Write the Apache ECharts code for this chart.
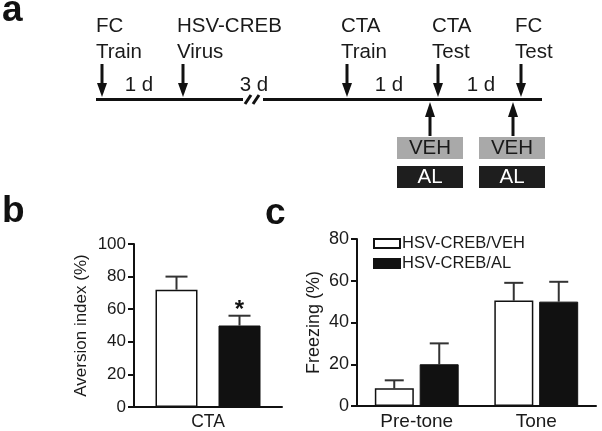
<!DOCTYPE html>
<html>
<head>
<meta charset="utf-8">
<script src="https://cdn.jsdelivr.net/npm/echarts@6/dist/echarts.min.js"></script>
<style>
html,body{margin:0;padding:0;background:#fff;}
#chart{width:602px;height:431px;}
</style>
</head>
<body>
<div id="chart"></div>
<script>
// ---------- data ----------
const timelineEvents = ['FC\nTrain', 'HSV-CREB\nVirus', 'CTA\nTrain', 'CTA\nTest', 'FC\nTest'];
const timelineIntervals = ['1 d', '3 d', '1 d', '1 d'];
const treatments = ['VEH', 'AL'];
const seriesNames = ['HSV-CREB/VEH', 'HSV-CREB/AL'];

const ctaCategories = ['CTA'];
const ctaVeh = [72];
const ctaVehErr = [8];
const ctaAl = [50];
const ctaAlErr = [6];
const ctaAlSig = ['*'];

const fcCategories = ['Pre-tone', 'Tone'];
const fcVeh = [8.5, 50.5];
const fcVehErr = [3.8, 8.5];
const fcAl = [20, 50];
const fcAlErr = [10, 9.5];

const ctaAxis = { min: 0, max: 100, interval: 20 };
const fcAxis = { min: 0, max: 80, interval: 20 };

// ---------- style / layout ----------
const FONT = '"Liberation Sans", Arial, Helvetica, sans-serif';
const INK = '#111';
const TXT = '#1a1a1a';
const TL_FONT = '20.5px ' + FONT;

const chart = echarts.init(document.getElementById('chart'), null, { renderer: 'canvas' });

function errRender(offset, capHalf, sig) {
  return function (params, api) {
    const c = api.value(0), v = api.value(1), e = api.value(2);
    const base = api.coord([c, v]);
    const top = api.coord([c, v + e]);
    const cx = base[0] + offset;
    const children = [
      { type: 'line', shape: { x1: cx, y1: base[1], x2: cx, y2: top[1] }, style: { stroke: '#333', lineWidth: 2 } },
      { type: 'line', shape: { x1: cx - capHalf, y1: top[1], x2: cx + capHalf, y2: top[1] }, style: { stroke: '#333', lineWidth: 2 } }
    ];
    if (sig && sig[params.dataIndex]) {
      children.push({ type: 'text', style: { text: sig[params.dataIndex], x: cx, y: top[1] - 5, align: 'center', verticalAlign: 'middle', font: 'bold 24px ' + FONT, fill: INK } });
    }
    return { type: 'group', children: children };
  };
}

// ---------- panel a (schematic) ----------
const g = [];
const lineY = 99.5;
const eventX = [102, 183, 347, 438, 521];
const intervalX = [139, 254, 389, 481];
const upX = [430, 513];
const boxX = [397, 479];

g.push({ type: 'text', style: { text: 'a', x: 2, y: 11, verticalAlign: 'middle', font: 'bold 37px ' + FONT, fill: INK } });
g.push({ type: 'text', style: { text: 'b', x: 2, y: 212, verticalAlign: 'middle', font: 'bold 37px ' + FONT, fill: INK } });
g.push({ type: 'text', style: { text: 'c', x: 265, y: 214, verticalAlign: 'middle', font: 'bold 37px ' + FONT, fill: INK } });

timelineIntervals.forEach(function (t, i) {
  g.push({ type: 'text', z: 1, style: { text: t, x: intervalX[i], y: 85, align: 'center', verticalAlign: 'middle', font: TL_FONT, fill: TXT } });
});
g.push({ type: 'line', z: 2, shape: { x1: 96, y1: lineY, x2: 243, y2: lineY }, style: { stroke: INK, lineWidth: 3 } });
g.push({ type: 'line', z: 2, shape: { x1: 263, y1: lineY, x2: 542, y2: lineY }, style: { stroke: INK, lineWidth: 3 } });
g.push({ type: 'rect', z: 2, shape: { x: 243, y: 92, width: 20, height: 13 }, style: { fill: '#fff' } });
g.push({ type: 'line', z: 3, shape: { x1: 245, y1: 104, x2: 251, y2: 95 }, style: { stroke: INK, lineWidth: 3 } });
g.push({ type: 'line', z: 3, shape: { x1: 253, y1: 104, x2: 259, y2: 95 }, style: { stroke: INK, lineWidth: 3 } });

timelineEvents.forEach(function (t, i) {
  const x = eventX[i];
  const parts = t.split('\n');
  g.push({ type: 'text', style: { text: parts[0], x: x - 6, y: 26.5, verticalAlign: 'middle', font: TL_FONT, fill: TXT } });
  g.push({ type: 'text', style: { text: parts[1], x: x - 6, y: 52, verticalAlign: 'middle', font: TL_FONT, fill: TXT } });
  g.push({ type: 'rect', shape: { x: x - 1.5, y: 64, width: 3, height: 20 }, style: { fill: INK } });
  g.push({ type: 'polygon', shape: { points: [[x - 5, 83], [x + 5, 83], [x, 97]] }, style: { fill: INK } });
});
upX.forEach(function (x) {
  g.push({ type: 'polygon', shape: { points: [[x, 102], [x - 5, 117], [x + 5, 117]] }, style: { fill: INK } });
  g.push({ type: 'rect', shape: { x: x - 1.5, y: 116, width: 3, height: 20 }, style: { fill: INK } });
});
boxX.forEach(function (x) {
  g.push({ type: 'rect', shape: { x: x, y: 137, width: 66, height: 22 }, style: { fill: '#a9a9a9' } });
  g.push({ type: 'text', style: { text: treatments[0], x: x + 33, y: 148.5, align: 'center', verticalAlign: 'middle', font: TL_FONT, fill: TXT } });
  g.push({ type: 'rect', shape: { x: x, y: 166, width: 66, height: 22 }, style: { fill: '#1e1e1e' } });
  g.push({ type: 'text', style: { text: treatments[1], x: x + 33, y: 177.5, align: 'center', verticalAlign: 'middle', font: TL_FONT, fill: '#fff' } });
});

// ---------- axes helpers ----------
function yAx(gi, range, name, nameGap, nameSize, labelSize) {
  return {
    type: 'value', gridIndex: gi, min: range.min, max: range.max, interval: range.interval,
    name: name, nameLocation: 'middle', nameGap: nameGap,
    nameTextStyle: { fontFamily: FONT, fontSize: nameSize, color: TXT },
    axisLine: { show: true, lineStyle: { color: INK, width: 2 } },
    axisTick: { show: true, length: 6, lineStyle: { color: INK, width: 2 } },
    axisLabel: { fontFamily: FONT, fontSize: labelSize, color: TXT, margin: 8 },
    splitLine: { show: false }
  };
}
function xAx(gi, cats, labelSize) {
  return {
    type: 'category', gridIndex: gi, data: cats,
    axisLine: { lineStyle: { color: INK, width: 2 } },
    axisTick: { show: false },
    axisLabel: { fontFamily: FONT, fontSize: labelSize, color: TXT, margin: 6 }
  };
}

const vehStyle = { color: '#fff', borderColor: INK, borderWidth: 1.5 };
const alStyle = { color: INK, borderColor: INK, borderWidth: 1 };

chart.setOption({
  animation: false,
  backgroundColor: '#fff',
  graphic: { elements: g },
  legend: {
    data: seriesNames, orient: 'vertical', left: 373, top: 234, padding: 0,
    icon: 'rect', itemWidth: 26, itemHeight: 9, itemGap: 1,
    textStyle: { fontFamily: FONT, fontSize: 16.5, color: TXT, lineHeight: 19, padding: [0, 0, 0, -3] },
    selectedMode: false
  },
  grid: [
    { left: 134, top: 244, width: 148, height: 165 },
    { left: 357, top: 239, width: 239, height: 169 }
  ],
  xAxis: [xAx(0, ctaCategories, 17.5), xAx(1, fcCategories, 19)],
  yAxis: [
    yAx(0, ctaAxis, 'Aversion index (%)', 44, 17, 17),
    yAx(1, fcAxis, 'Freezing (%)', 34, 18, 18)
  ],
  series: [
    { name: seriesNames[0], type: 'bar', xAxisIndex: 0, yAxisIndex: 0, data: ctaVeh, barWidth: 42, barGap: '50%', itemStyle: vehStyle },
    { name: seriesNames[1], type: 'bar', xAxisIndex: 0, yAxisIndex: 0, data: ctaAl, barWidth: 42, barGap: '50%', itemStyle: alStyle },
    { type: 'custom', xAxisIndex: 0, yAxisIndex: 0, renderItem: errRender(-31.5, 11), data: ctaVeh.map(function (v, i) { return [i, v, ctaVehErr[i]]; }) },
    { type: 'custom', xAxisIndex: 0, yAxisIndex: 0, renderItem: errRender(31.5, 11, ctaAlSig), data: ctaAl.map(function (v, i) { return [i, v, ctaAlErr[i]]; }) },
    { name: seriesNames[0], type: 'bar', xAxisIndex: 1, yAxisIndex: 1, data: fcVeh, barWidth: 39, barGap: '15%', itemStyle: vehStyle },
    { name: seriesNames[1], type: 'bar', xAxisIndex: 1, yAxisIndex: 1, data: fcAl, barWidth: 39, barGap: '15%', itemStyle: alStyle },
    { type: 'custom', xAxisIndex: 1, yAxisIndex: 1, renderItem: errRender(-22.5, 9.5), data: fcVeh.map(function (v, i) { return [i, v, fcVehErr[i]]; }) },
    { type: 'custom', xAxisIndex: 1, yAxisIndex: 1, renderItem: errRender(22.5, 9.5), data: fcAl.map(function (v, i) { return [i, v, fcAlErr[i]]; }) }
  ]
});
</script>
</body>
</html>
